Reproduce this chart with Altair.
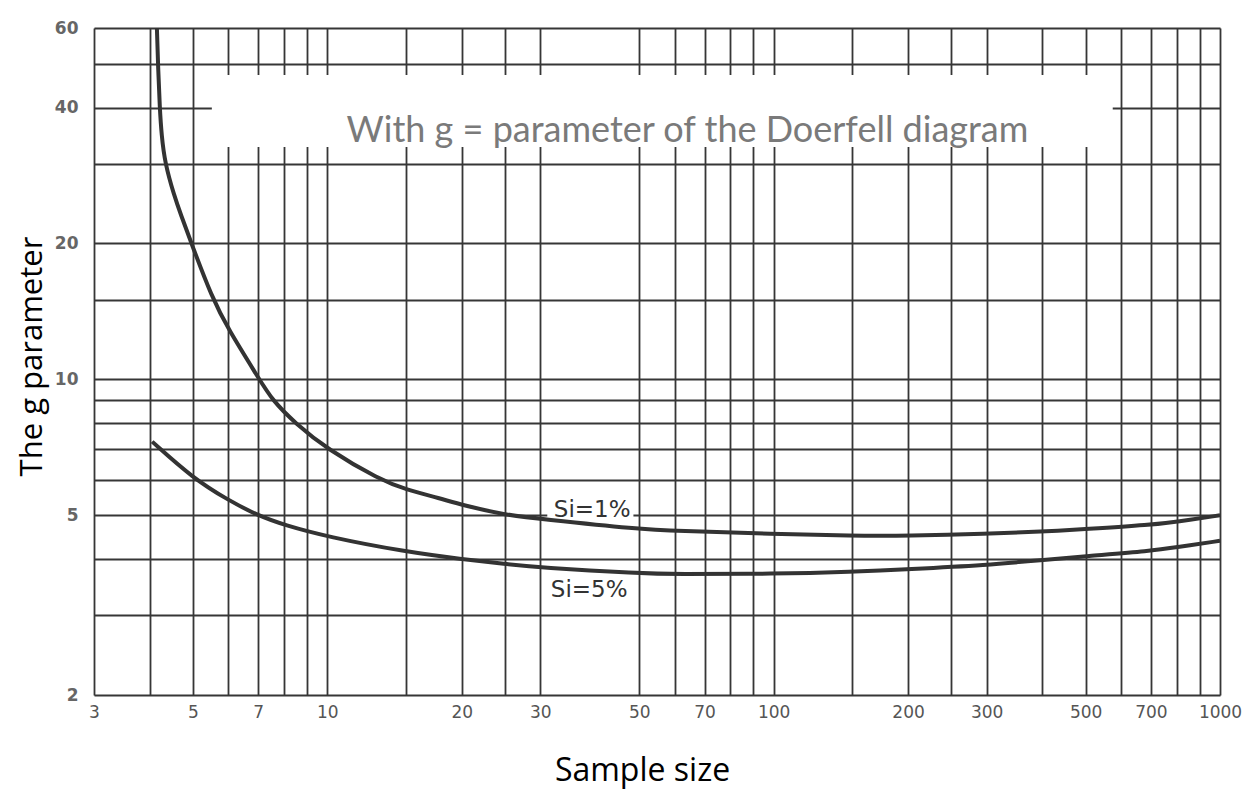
import altair as alt
import pandas as pd

# grid / tick values
x_grid = [3, 4, 5, 6, 7, 8, 9, 10, 15, 20, 25, 30, 50, 60, 70, 80, 90, 100,
          150, 200, 250, 300, 400, 500, 600, 700, 800, 900, 1000]
x_labels = [3, 5, 7, 10, 20, 30, 50, 70, 100, 200, 300, 500, 700, 1000]
y_grid = [2, 3, 4, 5, 6, 7, 8, 9, 10, 15, 20, 30, 40, 50, 60]
y_labels = [2, 5, 10, 20, 40, 60]

# curve Si=1%
si1_n = [4.15, 4.178, 4.212, 4.25, 4.327, 4.533, 4.70, 4.96, 5.51, 6.0, 7.0, 7.52, 8.47, 10.0,
         13.1, 15, 17.9, 20, 25, 30, 50, 60, 100, 150, 200, 300, 400, 500, 700, 800, 1000]
si1_g = [60, 48.4, 39.9, 34.8, 30.1, 25.6, 23.1, 20, 15.2, 12.9, 10.1, 9.0, 8.0, 7.0,
         6.0, 5.70, 5.45, 5.27, 5.01, 4.91, 4.66, 4.62, 4.55, 4.5, 4.5, 4.55, 4.6, 4.66,
         4.76, 4.84, 5.0]
# curve Si=5%
si5_n = [4.05, 5, 6, 7, 8, 10, 15, 20, 25, 30, 50, 60, 100, 150, 200, 300, 400,
         500, 700, 800, 1000]
si5_g = [7.28, 6.04, 5.40, 4.99, 4.76, 4.48, 4.15, 4.00, 3.90, 3.83, 3.72, 3.70,
         3.71, 3.75, 3.80, 3.88, 3.98, 4.06, 4.17, 4.25, 4.39]

curve_names = ["Si=1%", "Si=5%"]
curve_label_n = [39.2, 38.6]
curve_label_g = [5.14, 3.42]

note_text = "With g = parameter of the Doerfell diagram"
note_n = [64.1]
note_g = [33.6]
# white background boxes: [annotation box, Si=1% label box]
box_n1 = [5.51, 31.1]
box_n2 = [575, 48.5]
box_g1 = [32.7, 4.87]
box_g2 = [47.2, 5.27]

curves = pd.concat([
    pd.DataFrame({"n": si1_n, "g": si1_g, "series": curve_names[0]}),
    pd.DataFrame({"n": si5_n, "g": si5_g, "series": curve_names[1]}),
])
labels_df = pd.DataFrame({"n": curve_label_n, "g": curve_label_g, "t": curve_names})
note_df = pd.DataFrame({"n": note_n, "g": note_g, "t": [note_text]})
box_df = pd.DataFrame({"n": box_n1, "n2": box_n2, "g": box_g1, "g2": box_g2})

xlab = "[" + ",".join(str(v) for v in x_labels) + "]"
ylab = "[" + ",".join(str(v) for v in y_labels) + "]"

xscale = alt.Scale(type="log", domain=[3, 1000], nice=False)
yscale = alt.Scale(type="log", domain=[2, 60], nice=False)

grid_color = "#363636"

x_axis = alt.Axis(
    values=x_grid,
    labelExpr=f"indexof({xlab}, datum.value) >= 0 ? format(datum.value, 'd') : ''",
    grid=True, gridColor=grid_color, gridWidth=1.8, gridOpacity=1,
    ticks=False, domain=False, labelOverlap=False, labelFlush=False,
    labelPadding=9, labelFont="DejaVu Sans", labelFontSize=17, labelColor="#555",
    title="Sample size", titleFont="Open Sans", titleFontSize=32,
    titleFontWeight="normal", titleColor="#000",
    titleX=548, titleY=85, titleBaseline="alphabetic", titleAlign="center",
)
y_axis = alt.Axis(
    values=y_grid,
    labelExpr=f"indexof({ylab}, datum.value) >= 0 ? format(datum.value, 'd') : ''",
    grid=True, gridColor=grid_color, gridWidth=1.8, gridOpacity=1,
    ticks=False, domain=False, labelOverlap=False, labelFlush=False,
    labelPadding=16, labelFont="DejaVu Sans", labelFontSize=17, labelFontWeight="bold",
    labelColor="#666",
    title="The g parameter", titleFont="Open Sans", titleFontSize=31,
    titleFontWeight="normal", titleColor="#000",
    titleX=-53, titleY=328, titleBaseline="alphabetic", titleAlign="center", titleAngle=270,
)

box = alt.Chart(box_df).mark_rect(color="white").encode(
    x=alt.X("n:Q", scale=xscale, axis=x_axis),
    x2="n2:Q",
    y=alt.Y("g:Q", scale=yscale, axis=y_axis),
    y2="g2:Q",
)

note = alt.Chart(note_df).mark_text(
    font="Lato", fontSize=36, color="#7a7a7a", align="center", baseline="alphabetic"
).encode(x=alt.X("n:Q", scale=xscale), y=alt.Y("g:Q", scale=yscale), text="t:N")

lines = alt.Chart(curves).mark_line(
    interpolate="basis", strokeWidth=4, color="#333"
).encode(
    x=alt.X("n:Q", scale=xscale),
    y=alt.Y("g:Q", scale=yscale),
    detail="series:N",
)

clabels = alt.Chart(labels_df).mark_text(
    font="DejaVu Sans", fontSize=23, color="#333", align="center", baseline="middle"
).encode(x=alt.X("n:Q", scale=xscale), y=alt.Y("g:Q", scale=yscale), text="t:N")

chart = alt.layer(box, note, lines, clabels).properties(
    width=1126, height=667,
    padding={"left": 86, "top": 20, "right": 22, "bottom": 94},
    autosize=alt.AutoSizeParams(type="none"),
).configure_view(stroke="#333", strokeWidth=2).configure(background="white")

chart.save("out.html", embed_options={"renderer": "svg", "actions": False})
